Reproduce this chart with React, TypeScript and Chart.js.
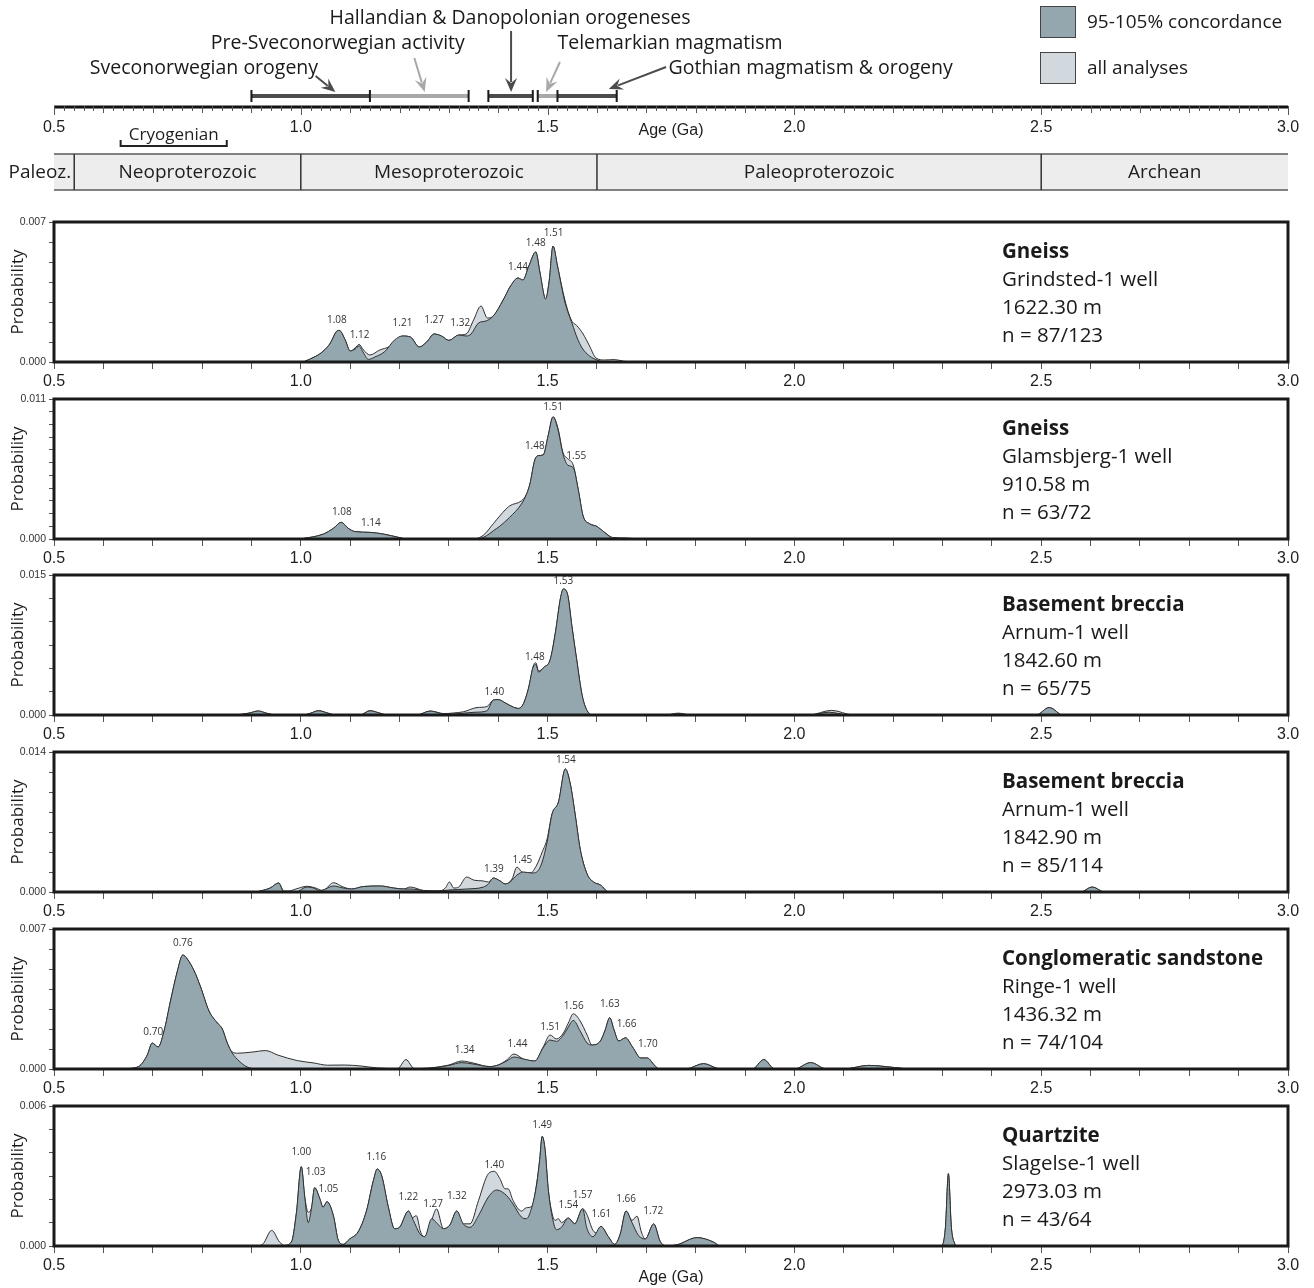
import React, { useEffect, useRef } from "react";
import { Chart, registerables } from "chart.js";

Chart.register(...registerables);

type Pt = [number, number];
type Peak = [string, number, number];

// ---------------- data ----------------
const ageMin = 0.5;
const ageMax = 3.0;
const ageMid = 1.75;

const eventNames = [
  "Sveconorwegian orogeny",
  "Pre-Sveconorwegian activity",
  "Hallandian & Danopolonian orogeneses",
  "Telemarkian magmatism",
  "Gothian magmatism & orogeny",
];
const eventStart = [0.9, 1.14, 1.38, 1.48, 1.52];
const eventEnd = [1.14, 1.34, 1.47, 1.52, 1.64];
const eventTone = ["dark", "light", "dark", "light", "dark"];

const eraNames = ["Paleoz.", "Neoproterozoic", "Mesoproterozoic", "Paleoproterozoic", "Archean"];
const eraStart = [0.5, 0.541, 1.0, 1.6, 2.5];
const eraEnd = [0.541, 1.0, 1.6, 2.5, 3.0];

const periodName = "Cryogenian";
const periodSpan = [0.635, 0.85];

const legendLabels = ["95-105% concordance", "all analyses"];

const sampleRock = ["Gneiss", "Gneiss", "Basement breccia", "Basement breccia", "Conglomeratic sandstone", "Quartzite"];
const sampleWell = ["Grindsted-1 well", "Glamsbjerg-1 well", "Arnum-1 well", "Arnum-1 well", "Ringe-1 well", "Slagelse-1 well"];
const sampleDepth = ["1622.30 m", "910.58 m", "1842.60 m", "1842.90 m", "1436.32 m", "2973.03 m"];
const sampleN = ["n = 87/123", "n = 63/72", "n = 65/75", "n = 85/114", "n = 74/104", "n = 43/64"];
const yMax = [0.007, 0.011, 0.015, 0.014, 0.007, 0.006];
const yStep = [0.001, 0.001, 0.0025, 0.002, 0.001, 0.001];

// Panel 1 - Grindsted-1
const p1Conc: Pt[] = [
  [1.005, 0], [1.03, 0.00028], [1.045, 0.00053], [1.06, 0.00095], [1.072, 0.00152], [1.078, 0.00158],
  [1.09, 0.0011], [1.1, 0.00055], [1.11, 0.00065], [1.118, 0.0008], [1.126, 0.0005], [1.137, 0.00013],
  [1.15, 0.00025], [1.17, 0.00052], [1.19, 0.0011], [1.206, 0.0013], [1.222, 0.00125], [1.24, 0.00075],
  [1.255, 0.001], [1.27, 0.0014], [1.285, 0.0013], [1.3, 0.00108], [1.32, 0.00135], [1.335, 0.0013],
  [1.345, 0.0014], [1.36, 0.00195], [1.375, 0.00205], [1.39, 0.0023], [1.41, 0.0031], [1.425, 0.0038],
  [1.44, 0.0042], [1.45, 0.0041], [1.462, 0.0048], [1.476, 0.0055], [1.485, 0.0044], [1.496, 0.00315],
  [1.503, 0.004], [1.511, 0.0058], [1.52, 0.0048], [1.535, 0.003], [1.55, 0.0019], [1.56, 0.0012],
  [1.57, 0.0007], [1.585, 0.0003], [1.6, 0.0001], [1.612, 0],
];
const p1All: Pt[] = [
  [1.005, 0], [1.03, 0.00028], [1.045, 0.00053], [1.06, 0.00095], [1.072, 0.00152], [1.078, 0.00158],
  [1.09, 0.0011], [1.1, 0.00055], [1.11, 0.0007], [1.118, 0.00088], [1.127, 0.0006], [1.14, 0.00035],
  [1.16, 0.0006], [1.18, 0.00078], [1.195, 0.0011], [1.206, 0.0013], [1.222, 0.00125], [1.24, 0.00075],
  [1.255, 0.001], [1.27, 0.0014], [1.285, 0.0013], [1.3, 0.00108], [1.32, 0.00135], [1.335, 0.0014],
  [1.35, 0.0021], [1.365, 0.0028], [1.378, 0.0022], [1.39, 0.0023], [1.41, 0.0031], [1.425, 0.0038],
  [1.44, 0.0042], [1.45, 0.0041], [1.462, 0.0048], [1.476, 0.0055], [1.485, 0.0044], [1.496, 0.00315],
  [1.503, 0.004], [1.511, 0.0058], [1.52, 0.0048], [1.535, 0.0031], [1.548, 0.0021], [1.56, 0.0018],
  [1.572, 0.0014], [1.585, 0.0008], [1.598, 0.0002], [1.615, 0.0001], [1.635, 0.00012], [1.652, 0.00005],
  [1.665, 0],
];
const p1Peaks: Peak[] = [
  ["1.08", 1.073, 0.00208], ["1.12", 1.119, 0.00132], ["1.21", 1.206, 0.00195], ["1.27", 1.27, 0.00208],
  ["1.32", 1.323, 0.00195], ["1.44", 1.44, 0.00473], ["1.48", 1.476, 0.00595], ["1.51", 1.512, 0.00642],
];

// Panel 2 - Glamsbjerg-1
const p2Conc: Pt[] = [
  [1.0, 0], [1.046, 0.00039], [1.066, 0.00084], [1.082, 0.00131], [1.096, 0.00084], [1.11, 0.00058],
  [1.14, 0.00052], [1.167, 0.00039], [1.201, 0.0001], [1.214, 0],
  [1.356, 0], [1.376, 0.00025], [1.39, 0.00065], [1.403, 0.001], [1.423, 0.0017], [1.447, 0.00275],
  [1.457, 0.0035], [1.464, 0.0043], [1.474, 0.0062], [1.481, 0.00655], [1.491, 0.0066], [1.501, 0.0081],
  [1.511, 0.0096], [1.521, 0.0086], [1.531, 0.0067], [1.541, 0.0058], [1.552, 0.0056], [1.562, 0.0039],
  [1.572, 0.0018], [1.585, 0.0012], [1.599, 0.001], [1.616, 0.0005], [1.632, 0],
];
const p2All: Pt[] = [
  [1.0, 0], [1.046, 0.00039], [1.066, 0.00084], [1.082, 0.00131], [1.096, 0.00084], [1.11, 0.00058],
  [1.14, 0.00052], [1.167, 0.00039], [1.201, 0.0001], [1.214, 0],
  [1.35, 0], [1.37, 0.0003], [1.39, 0.0012], [1.405, 0.0019], [1.423, 0.0026], [1.447, 0.003],
  [1.457, 0.0035], [1.464, 0.0043], [1.474, 0.0062], [1.481, 0.00655], [1.491, 0.0066], [1.501, 0.0081],
  [1.511, 0.0096], [1.521, 0.0087], [1.531, 0.0068], [1.541, 0.0063], [1.552, 0.0058], [1.562, 0.0039],
  [1.572, 0.0018], [1.585, 0.0012], [1.599, 0.001], [1.616, 0.0005], [1.632, 0.00012], [1.66, 0.00008],
  [1.68, 0],
];
const p2Peaks: Peak[] = [
  ["1.08", 1.083, 0.0021], ["1.14", 1.142, 0.00123], ["1.48", 1.474, 0.00733], ["1.51", 1.511, 0.01035],
  ["1.55", 1.558, 0.0065],
];

// Panel 3 - Arnum-1 1842.60
const p3Conc: Pt[] = [
  [0.87, 0], [0.895, 0.0002], [0.914, 0.00043], [0.93, 0.0002], [0.95, 0],
  [1.005, 0], [1.02, 0.0002], [1.036, 0.00045], [1.055, 0.0002], [1.07, 0],
  [1.12, 0], [1.14, 0.00045], [1.16, 0.0002], [1.175, 0],
  [1.235, 0], [1.262, 0.00042], [1.29, 0.00012], [1.31, 0.0001], [1.33, 0.0002], [1.355, 0.0003],
  [1.377, 0.00045], [1.39, 0.0016], [1.4, 0.00165], [1.414, 0.0013], [1.431, 0.00083], [1.441, 0.0007],
  [1.451, 0.0012], [1.461, 0.0028], [1.472, 0.0053], [1.476, 0.0054], [1.482, 0.0046], [1.492, 0.0051],
  [1.505, 0.0059], [1.516, 0.0089], [1.526, 0.0125], [1.532, 0.0135], [1.541, 0.0128], [1.549, 0.0096],
  [1.559, 0.0059], [1.57, 0.0021], [1.58, 0.00047], [1.593, 0],
  [1.74, 0], [1.765, 0.00015], [1.79, 0], [2.03, 0], [2.07, 0.0003], [2.11, 0],
  [2.49, 0], [2.516, 0.0008], [2.54, 0],
];
const p3All: Pt[] = [
  [0.87, 0], [0.895, 0.0002], [0.914, 0.00043], [0.93, 0.0002], [0.95, 0],
  [1.005, 0], [1.02, 0.0002], [1.036, 0.00047], [1.055, 0.0002], [1.07, 0],
  [1.12, 0], [1.14, 0.00047], [1.16, 0.0002], [1.175, 0],
  [1.235, 0], [1.262, 0.00043], [1.29, 0.00015], [1.31, 0.00022], [1.33, 0.00035], [1.357, 0.0008],
  [1.377, 0.0009], [1.39, 0.0016], [1.4, 0.00165], [1.414, 0.0013], [1.431, 0.00083], [1.441, 0.0007],
  [1.451, 0.0012], [1.461, 0.0028], [1.472, 0.0054], [1.476, 0.0056], [1.482, 0.0047], [1.492, 0.0051],
  [1.505, 0.0059], [1.516, 0.0089], [1.526, 0.0125], [1.532, 0.0135], [1.541, 0.0128], [1.549, 0.0096],
  [1.559, 0.0059], [1.57, 0.0021], [1.58, 0.00047], [1.593, 0],
  [1.74, 0], [1.765, 0.0002], [1.79, 0], [2.03, 0], [2.075, 0.0005], [2.12, 0],
  [2.49, 0], [2.516, 0.0008], [2.54, 0],
];
const p3Peaks: Peak[] = [["1.40", 1.392, 0.00244], ["1.48", 1.474, 0.00621], ["1.53", 1.532, 0.01436]];

// Panel 4 - Arnum-1 1842.90
const p4Conc: Pt[] = [
  [0.91, 0], [0.938, 0.0004], [0.955, 0.0009], [0.966, 0], [0.99, 0], [1.012, 0.0005], [1.026, 0.0004],
  [1.039, 0.0001], [1.05, 0.0003], [1.066, 0.0006], [1.086, 0.0004], [1.103, 0.0003], [1.127, 0.00055],
  [1.161, 0.0006], [1.188, 0.0004], [1.208, 0.0003], [1.222, 0.0003], [1.249, 0.00015], [1.28, 0.0001],
  [1.3, 0.0002], [1.336, 0.0003], [1.37, 0.0005], [1.38, 0.0008], [1.39, 0.0014], [1.404, 0.0011],
  [1.414, 0.0008], [1.424, 0.001], [1.438, 0.0017], [1.451, 0.002], [1.468, 0.0019], [1.478, 0.002],
  [1.489, 0.003], [1.499, 0.005], [1.509, 0.0078], [1.522, 0.009], [1.536, 0.0123], [1.546, 0.0108],
  [1.556, 0.0077], [1.566, 0.0043], [1.58, 0.0018], [1.593, 0.001], [1.607, 0.0007], [1.624, 0],
  [2.58, 0], [2.603, 0.0005], [2.625, 0],
];
const p4All: Pt[] = [
  [0.91, 0], [0.938, 0.0004], [0.955, 0.0009], [0.966, 0.0001], [0.975, 0.0001], [0.992, 0.00033],
  [1.012, 0.00057], [1.03, 0.0004], [1.043, 0.00017], [1.05, 0.0003], [1.066, 0.00093], [1.086, 0.0005],
  [1.103, 0.0003], [1.127, 0.00055], [1.161, 0.0006], [1.188, 0.0004], [1.208, 0.0003], [1.222, 0.0005],
  [1.249, 0.00015], [1.28, 0.0001], [1.293, 0.0004], [1.301, 0.001], [1.31, 0.0004], [1.32, 0.0005],
  [1.336, 0.0015], [1.35, 0.0012], [1.37, 0.0011], [1.38, 0.001], [1.39, 0.0014], [1.404, 0.0011],
  [1.414, 0.0008], [1.428, 0.0013], [1.438, 0.0025], [1.448, 0.002], [1.465, 0.0019], [1.478, 0.0027],
  [1.489, 0.004], [1.499, 0.0053], [1.509, 0.0078], [1.522, 0.009], [1.536, 0.0123], [1.546, 0.0108],
  [1.556, 0.0077], [1.566, 0.0043], [1.58, 0.0018], [1.593, 0.001], [1.607, 0.0007], [1.624, 0],
  [2.58, 0], [2.603, 0.0005], [2.625, 0],
];
const p4Peaks: Peak[] = [["1.39", 1.391, 0.00226], ["1.45", 1.449, 0.00316], ["1.54", 1.537, 0.01315]];

// Panel 5 - Ringe-1
const p5Conc: Pt[] = [
  [0.63, 0], [0.649, 0.00002], [0.672, 0.00013], [0.689, 0.0007], [0.699, 0.0013], [0.711, 0.0011],
  [0.723, 0.0019], [0.736, 0.0034], [0.75, 0.0049], [0.761, 0.0057], [0.77, 0.0055], [0.784, 0.0049],
  [0.797, 0.0041], [0.814, 0.0029], [0.831, 0.0023], [0.841, 0.002], [0.851, 0.0013], [0.861, 0.0008],
  [0.875, 0.0004], [0.889, 0.00013], [0.902, 0.00002], [0.92, 0],
  [1.24, 0], [1.3, 0.00018], [1.326, 0.00032], [1.349, 0.00025], [1.383, 0.00012], [1.4, 0.0002],
  [1.417, 0.0004], [1.432, 0.0006], [1.451, 0.0005], [1.474, 0.0004], [1.491, 0.00106], [1.505, 0.00145],
  [1.518, 0.00138], [1.532, 0.0017], [1.542, 0.0021], [1.552, 0.00243], [1.566, 0.0019], [1.58, 0.0013],
  [1.59, 0.0012], [1.607, 0.0014], [1.616, 0.0019], [1.626, 0.00256], [1.634, 0.002], [1.644, 0.0014],
  [1.658, 0.00156], [1.672, 0.0011], [1.689, 0.00055], [1.702, 0.00055], [1.716, 0.0002], [1.726, 0],
  [1.78, 0], [1.816, 0.00027], [1.85, 0], [1.915, 0], [1.938, 0.00047], [1.96, 0], [2.0, 0],
  [2.033, 0.00032], [2.065, 0], [2.1, 0], [2.15, 0.00018], [2.2, 0.00008], [2.23, 0],
];
const p5All: Pt[] = [
  [0.63, 0], [0.649, 0.00002], [0.672, 0.00013], [0.689, 0.0007], [0.699, 0.0013], [0.711, 0.0011],
  [0.723, 0.0019], [0.736, 0.0034], [0.75, 0.0049], [0.761, 0.0057], [0.77, 0.0055], [0.784, 0.0049],
  [0.797, 0.0041], [0.814, 0.0029], [0.831, 0.0023], [0.841, 0.002], [0.851, 0.0013], [0.861, 0.00085],
  [0.872, 0.00079], [0.899, 0.00084], [0.929, 0.00092], [0.953, 0.0007], [0.993, 0.00042], [1.027, 0.0003],
  [1.054, 0.00019], [1.088, 0.0002], [1.122, 0.00015], [1.156, 0.00005], [1.196, 0.00002], [1.213, 0.00047],
  [1.23, 0.00002], [1.26, 0.00005], [1.3, 0.0002], [1.326, 0.0004], [1.349, 0.0003], [1.383, 0.00012],
  [1.4, 0.0002], [1.417, 0.00045], [1.432, 0.00075], [1.451, 0.0005], [1.474, 0.0004], [1.491, 0.0011],
  [1.505, 0.0017], [1.518, 0.0015], [1.532, 0.0018], [1.542, 0.0023], [1.552, 0.00276], [1.566, 0.0024],
  [1.58, 0.0017], [1.59, 0.0012], [1.607, 0.0014], [1.616, 0.0019], [1.626, 0.00256], [1.634, 0.002],
  [1.644, 0.0014], [1.658, 0.00156], [1.672, 0.0011], [1.689, 0.00055], [1.702, 0.00055], [1.716, 0.0002],
  [1.726, 0], [1.78, 0], [1.816, 0.00027], [1.85, 0], [1.915, 0], [1.938, 0.00047], [1.96, 0], [2.0, 0],
  [2.033, 0.00032], [2.065, 0], [2.1, 0], [2.15, 0.00018], [2.2, 0.00008], [2.23, 0],
];
const p5Peaks: Peak[] = [
  ["0.70", 0.701, 0.00186], ["0.76", 0.761, 0.00628], ["1.34", 1.332, 0.00092], ["1.44", 1.439, 0.00122],
  ["1.51", 1.505, 0.00211], ["1.56", 1.553, 0.00315], ["1.63", 1.626, 0.00323], ["1.66", 1.66, 0.00223],
  ["1.70", 1.703, 0.00122],
];

// Panel 6 - Slagelse-1
const p6Conc: Pt[] = [
  [0.955, 0], [0.964, 0.00002], [0.981, 0.00017], [0.991, 0.0014], [1.001, 0.0034], [1.008, 0.0021],
  [1.015, 0.001], [1.022, 0.00166], [1.028, 0.0025], [1.039, 0.002], [1.045, 0.00166], [1.053, 0.0019],
  [1.066, 0.0013], [1.076, 0.00024], [1.086, 0.00007], [1.099, 0.0003], [1.116, 0.0006], [1.133, 0.0015],
  [1.147, 0.0028], [1.155, 0.0033], [1.164, 0.003], [1.177, 0.0017], [1.19, 0.00074], [1.2, 0.0008],
  [1.218, 0.0015], [1.228, 0.0011], [1.241, 0.00053], [1.251, 0.0004], [1.265, 0.00117], [1.275, 0.001],
  [1.289, 0.00074], [1.302, 0.0009], [1.316, 0.0015], [1.329, 0.00095], [1.343, 0.0008], [1.36, 0.0013],
  [1.38, 0.0021], [1.397, 0.0024], [1.417, 0.00216], [1.43, 0.0018], [1.447, 0.00124], [1.457, 0.00117],
  [1.468, 0.00166], [1.478, 0.00266], [1.484, 0.0037], [1.489, 0.0047], [1.495, 0.0041], [1.501, 0.0025],
  [1.508, 0.0014], [1.518, 0.0007], [1.528, 0.0008], [1.542, 0.0012], [1.555, 0.00095], [1.571, 0.0016],
  [1.579, 0.0008], [1.592, 0.0004], [1.608, 0.00084], [1.623, 0.0004], [1.636, 0.00007], [1.647, 0.0005],
  [1.659, 0.0015], [1.671, 0.001], [1.684, 0.00046], [1.698, 0.0003], [1.715, 0.00095], [1.728, 0.0002],
  [1.741, 0], [1.762, 0.00005], [1.803, 0.00036], [1.836, 0.00017], [1.85, 0],
  [2.298, 0], [2.306, 0.0008], [2.312, 0.0031], [2.318, 0.0008], [2.326, 0],
];
const p6All: Pt[] = [
  [0.915, 0], [0.924, 0.0001], [0.941, 0.00067], [0.957, 0.00017], [0.968, 0.00002], [0.981, 0.00017],
  [0.991, 0.0014], [1.001, 0.0034], [1.008, 0.0021], [1.015, 0.00145], [1.022, 0.00166], [1.028, 0.0025],
  [1.039, 0.002], [1.045, 0.00166], [1.053, 0.0019], [1.066, 0.0013], [1.076, 0.00024], [1.086, 0.00007],
  [1.099, 0.0003], [1.116, 0.0006], [1.133, 0.0015], [1.147, 0.0028], [1.155, 0.0033], [1.164, 0.003],
  [1.177, 0.0017], [1.19, 0.00074], [1.2, 0.0008], [1.218, 0.0015], [1.225, 0.0012], [1.234, 0.0013],
  [1.243, 0.00058], [1.251, 0.0004], [1.265, 0.0011], [1.275, 0.00159], [1.289, 0.00074], [1.302, 0.0009],
  [1.316, 0.0015], [1.329, 0.00095], [1.343, 0.00095], [1.36, 0.00195], [1.38, 0.0031], [1.392, 0.0032],
  [1.403, 0.0029], [1.414, 0.00245], [1.42, 0.00245], [1.43, 0.00195], [1.447, 0.0015], [1.457, 0.00164],
  [1.468, 0.0017], [1.478, 0.0027], [1.484, 0.0037], [1.489, 0.0047], [1.495, 0.0041], [1.501, 0.0025],
  [1.508, 0.0015], [1.515, 0.0011], [1.522, 0.00117], [1.528, 0.001], [1.542, 0.0012], [1.555, 0.00095],
  [1.571, 0.0016], [1.579, 0.00138], [1.592, 0.00067], [1.6, 0.00055], [1.608, 0.00084], [1.623, 0.0004],
  [1.636, 0.00007], [1.647, 0.0005], [1.659, 0.0015], [1.671, 0.0011], [1.681, 0.00128], [1.69, 0.0006],
  [1.698, 0.0003], [1.715, 0.00095], [1.728, 0.0002], [1.741, 0], [1.762, 0.00005], [1.803, 0.00036],
  [1.836, 0.00017], [1.85, 0],
  [2.298, 0], [2.306, 0.0008], [2.312, 0.0031], [2.318, 0.0008], [2.326, 0],
];
const p6Peaks: Peak[] = [
  ["1.00", 1.001, 0.00401], ["1.03", 1.03, 0.00316], ["1.05", 1.056, 0.00245], ["1.16", 1.153, 0.0038],
  ["1.22", 1.218, 0.00209], ["1.27", 1.268, 0.0018], ["1.32", 1.316, 0.00212], ["1.40", 1.392, 0.00348],
  ["1.49", 1.489, 0.00519], ["1.54", 1.542, 0.00173], ["1.57", 1.571, 0.0022], ["1.61", 1.609, 0.00135],
  ["1.66", 1.659, 0.00202], ["1.72", 1.714, 0.00148],
];

const panelConc = [p1Conc, p2Conc, p3Conc, p4Conc, p5Conc, p6Conc];
const panelAll = [p1All, p2All, p3All, p4All, p5All, p6All];
const panelPeaks = [p1Peaks, p2Peaks, p3Peaks, p4Peaks, p5Peaks, p6Peaks];

// ---------------- layout / style ----------------
const W = 1314;
const H = 1288;
const PLOT_LEFT = 54;
const PLOT_RIGHT_PAD = 26;
const PANEL_BOTTOM0 = 362;
const PANEL_PITCH = 176.74;
const PANEL_H = 140;
const PANEL_TOP_PAD = 14;

const DARK_FILL = "#94a7af";
const LIGHT_FILL = "#d1d9de";
const CURVE_LINE = "#2f2f2f";
const BAR_DARK = "#4c4c4c";
const BAR_LIGHT = "#a8a8a8";
const SANS = '"Open Sans", "Noto Sans", sans-serif';
const ARIAL = '"Liberation Sans", Arial, sans-serif';

// label placement for the event captions: [ageX, y, align]
const eventLabelPos: [number, number, CanvasTextAlign][] = [
  [1.035, 68, "right"],
  [1.075, 43, "center"],
  [1.424, 18, "center"],
  [1.52, 43, "left"],
  [1.745, 68, "left"],
];
// arrow geometry: [tailAge, tailY, tipAge, tipY]
const eventArrows: [number, number, number, number][] = [
  [1.03, 76, 1.07, 92],
  [1.23, 58, 1.251, 92],
  [1.426, 31, 1.426, 92],
  [1.525, 62, 1.497, 92],
  [1.74, 67, 1.624, 89],
];

const isMajor = (v: number) => Math.abs(v * 2 - Math.round(v * 2)) < 1e-6;

function drawArrow(ctx: CanvasRenderingContext2D, x1: number, y1: number, x2: number, y2: number, color: string) {
  const ang = Math.atan2(y2 - y1, x2 - x1);
  const headLen = 14;
  const headW = 6;
  const bx = x2 - Math.cos(ang) * headLen;
  const by = y2 - Math.sin(ang) * headLen;
  ctx.save();
  ctx.strokeStyle = color;
  ctx.fillStyle = color;
  ctx.lineWidth = 2;
  ctx.beginPath();
  ctx.moveTo(x1, y1);
  ctx.lineTo(bx + Math.cos(ang) * 4, by + Math.sin(ang) * 4);
  ctx.stroke();
  const nx = -Math.sin(ang);
  const ny = Math.cos(ang);
  ctx.beginPath();
  ctx.moveTo(x2, y2);
  ctx.lineTo(bx + nx * headW, by + ny * headW);
  ctx.lineTo(bx + Math.cos(ang) * 5, by + Math.sin(ang) * 5);
  ctx.lineTo(bx - nx * headW, by - ny * headW);
  ctx.closePath();
  ctx.fill();
  ctx.restore();
}

const topPlugin = {
  id: "topDecor",
  afterDraw(chart: any) {
    const ctx: CanvasRenderingContext2D = chart.ctx;
    const xs = chart.scales.x;
    const area = chart.chartArea;
    const px = (a: number) => xs.getPixelForValue(a);
    const axisY = area.bottom;
    ctx.save();

    // era table
    const tTop = 154;
    const tBot = 190;
    ctx.fillStyle = "#ededed";
    ctx.fillRect(px(ageMin), tTop, px(ageMax) - px(ageMin), tBot - tTop);
    ctx.strokeStyle = "#808080";
    ctx.lineWidth = 2;
    ctx.beginPath();
    ctx.moveTo(px(ageMin), tTop);
    ctx.lineTo(px(ageMax), tTop);
    ctx.moveTo(px(ageMin), tBot);
    ctx.lineTo(px(ageMax), tBot);
    ctx.stroke();
    ctx.strokeStyle = "#333";
    ctx.lineWidth = 1.5;
    ctx.beginPath();
    for (let i = 1; i < eraStart.length; i++) {
      const x = px(eraStart[i]);
      ctx.moveTo(x, tTop);
      ctx.lineTo(x, tBot);
    }
    ctx.stroke();
    ctx.fillStyle = "#1e1e1e";
    ctx.font = `19px ${SANS}`;
    ctx.textBaseline = "middle";
    for (let i = 0; i < eraNames.length; i++) {
      if (i === 0) {
        ctx.textAlign = "right";
        ctx.fillText(eraNames[i], px(eraEnd[i]) - 3, (tTop + tBot) / 2 + 1);
      } else {
        ctx.textAlign = "center";
        ctx.fillText(eraNames[i], (px(eraStart[i]) + px(eraEnd[i])) / 2, (tTop + tBot) / 2 + 1);
      }
    }

    // axis line and ticks
    ctx.strokeStyle = "#111";
    ctx.lineWidth = 3;
    ctx.beginPath();
    ctx.moveTo(px(ageMin), axisY);
    ctx.lineTo(px(ageMax), axisY);
    ctx.stroke();
    ctx.strokeStyle = "#555";
    ctx.lineWidth = 1;
    ctx.beginPath();
    for (let i = 0; i <= 125; i++) {
      const a = ageMin + i * 0.02;
      const len = i % 25 === 0 ? 8 : i % 5 === 0 ? 6 : 4;
      const x = Math.round(px(a)) + 0.5;
      ctx.moveTo(x, axisY - 1);
      ctx.lineTo(x, axisY + len);
    }
    ctx.stroke();

    ctx.fillStyle = "#1e1e1e";
    ctx.font = `16px ${ARIAL}`;
    ctx.textAlign = "center";
    ctx.fillText("Age (Ga)", px(ageMid), 131);

    // Cryogenian
    const c0 = px(periodSpan[0]);
    const c1 = px(periodSpan[1]);
    ctx.font = `17px ${SANS}`;
    ctx.fillText(periodName, (c0 + c1) / 2, 135);
    ctx.strokeStyle = "#222";
    ctx.lineWidth = 2;
    ctx.beginPath();
    ctx.moveTo(c0, 146);
    ctx.lineTo(c1, 146);
    ctx.moveTo(c0, 140);
    ctx.lineTo(c0, 147);
    ctx.moveTo(c1, 140);
    ctx.lineTo(c1, 147);
    ctx.stroke();

    // orogeny bars
    const barY = 96;
    for (let i = 0; i < eventNames.length; i++) {
      ctx.strokeStyle = eventTone[i] === "dark" ? BAR_DARK : BAR_LIGHT;
      ctx.lineWidth = 4;
      ctx.beginPath();
      ctx.moveTo(px(eventStart[i]), barY);
      ctx.lineTo(px(eventEnd[i]), barY);
      ctx.stroke();
    }
    ctx.strokeStyle = "#1a1a1a";
    ctx.lineWidth = 2;
    ctx.beginPath();
    for (let i = 0; i < eventNames.length; i++) {
      for (const a of [eventStart[i], eventEnd[i]]) {
        const x = px(a);
        ctx.moveTo(x, barY - 6);
        ctx.lineTo(x, barY + 6);
      }
    }
    ctx.stroke();

    // captions and arrows
    ctx.font = `19.5px ${SANS}`;
    ctx.fillStyle = "#1a1a1a";
    for (let i = 0; i < eventNames.length; i++) {
      const [a, y, al] = eventLabelPos[i];
      ctx.textAlign = al;
      ctx.fillText(eventNames[i], px(a), y);
      const [ta, ty, ha, hy] = eventArrows[i];
      drawArrow(ctx, px(ta), ty, px(ha), hy, eventTone[i] === "dark" ? BAR_DARK : BAR_LIGHT);
    }

    // legend
    const lx = 1040;
    const boxes: [string, number][] = [
      [DARK_FILL, 6],
      [LIGHT_FILL, 52],
    ];
    boxes.forEach(([col, y], i) => {
      ctx.fillStyle = col;
      ctx.fillRect(lx, y, 35, 31);
      ctx.strokeStyle = "#444";
      ctx.lineWidth = 1;
      ctx.strokeRect(lx + 0.5, y + 0.5, 35, 31);
      ctx.fillStyle = "#1a1a1a";
      ctx.textAlign = "left";
      ctx.font = `19px ${SANS}`;
      ctx.fillText(legendLabels[i], 1087, y + 17);
    });
    ctx.restore();
  },
};

function makePanelPlugin(idx: number) {
  return {
    id: "panelDecor" + idx,
    afterDraw(chart: any) {
      const ctx: CanvasRenderingContext2D = chart.ctx;
      const { left, right, top, bottom } = chart.chartArea;
      const xs = chart.scales.x;
      const ys = chart.scales.y;
      ctx.save();
      ctx.strokeStyle = "#1a1a1a";
      ctx.lineWidth = 3;
      ctx.strokeRect(left, top, right - left, bottom - top);

      // peak labels
      ctx.fillStyle = "#333";
      ctx.font = `10px ${SANS}`;
      ctx.textAlign = "center";
      ctx.textBaseline = "middle";
      for (const [t, a, v] of panelPeaks[idx]) {
        ctx.fillText(t, xs.getPixelForValue(a), ys.getPixelForValue(v));
      }

      // sample description
      const tx = right - 286;
      ctx.textAlign = "left";
      ctx.fillStyle = "#1a1a1a";
      ctx.font = `bold 20.5px ${SANS}`;
      ctx.fillText(sampleRock[idx], tx, top + 30);
      ctx.font = `20.5px ${SANS}`;
      ctx.fillText(sampleWell[idx], tx, top + 58);
      ctx.fillText(sampleDepth[idx], tx, top + 86);
      ctx.fillText(sampleN[idx], tx, top + 114);

      // y title
      ctx.save();
      ctx.translate(18, (top + bottom) / 2);
      ctx.rotate(-Math.PI / 2);
      ctx.textAlign = "center";
      ctx.font = `17px ${SANS}`;
      ctx.fillStyle = "#1a1a1a";
      ctx.fillText("Probability", 0, 0);
      ctx.restore();

      if (idx === 5) {
        ctx.textAlign = "center";
        ctx.font = `16px ${ARIAL}`;
        ctx.fillStyle = "#1e1e1e";
        ctx.fillText("Age (Ga)", xs.getPixelForValue(ageMid), bottom + 32);
      }
      ctx.restore();
    },
  };
}

function TopChart() {
  const ref = useRef<HTMLCanvasElement>(null);
  const height = 215;
  useEffect(() => {
    const chart = new Chart(ref.current as HTMLCanvasElement, {
      type: "line",
      data: { datasets: [] },
      options: {
        responsive: false,
        animation: false,
        events: [],
        layout: { padding: { left: PLOT_LEFT, right: PLOT_RIGHT_PAD, top: 100, bottom: 0 } },
        plugins: { legend: { display: false }, tooltip: { enabled: false } },
        scales: {
          x: {
            type: "linear",
            min: ageMin,
            max: ageMax,
            afterFit: (s: any) => {
              s.height = height - 107;
            },
            border: { display: false },
            grid: { display: false, drawTicks: false },
            ticks: {
              stepSize: 0.5,
              autoSkip: false,
              maxRotation: 0,
              padding: 11,
              color: "#1e1e1e",
              font: { family: ARIAL, size: 16 },
              callback: (v: any) => (isMajor(Number(v)) ? Number(v).toFixed(1) : ""),
            },
          },
          y: { display: false, min: 0, max: 1 },
        },
      } as any,
      plugins: [topPlugin],
    });
    (document as any).fonts?.ready?.then(() => {
      if ((chart as any).ctx) chart.update();
    });
    return () => chart.destroy();
  }, []);
  return (
    <canvas
      ref={ref}
      width={W}
      height={height}
      style={{ position: "absolute", left: 0, top: 0, width: W, height }}
    />
  );
}

function Panel({ idx }: { idx: number }) {
  const ref = useRef<HTMLCanvasElement>(null);
  const last = idx === 5;
  const bottom = PANEL_BOTTOM0 + idx * PANEL_PITCH;
  const top = Math.round(bottom - PANEL_H - PANEL_TOP_PAD);
  const height = last ? H - top : 194;
  const xAxisH = height - PANEL_TOP_PAD - PANEL_H;
  useEffect(() => {
    const max = yMax[idx];
    const chart = new Chart(ref.current as HTMLCanvasElement, {
      type: "line",
      data: {
        datasets: [
          {
            label: legendLabels[0],
            data: panelConc[idx].map(([x, y]) => ({ x, y })),
            fill: "origin",
            backgroundColor: DARK_FILL,
            borderColor: CURVE_LINE,
            borderWidth: 1,
            pointRadius: 0,
            cubicInterpolationMode: "monotone",
            order: 0,
          },
          {
            label: legendLabels[1],
            data: panelAll[idx].map(([x, y]) => ({ x, y })),
            fill: "origin",
            backgroundColor: LIGHT_FILL,
            borderColor: CURVE_LINE,
            borderWidth: 1,
            pointRadius: 0,
            cubicInterpolationMode: "monotone",
            order: 1,
          },
        ],
      },
      options: {
        responsive: false,
        animation: false,
        events: [],
        layout: { padding: { left: 0, right: PLOT_RIGHT_PAD, top: PANEL_TOP_PAD, bottom: 0 } },
        plugins: { legend: { display: false }, tooltip: { enabled: false } },
        scales: {
          x: {
            type: "linear",
            min: ageMin,
            max: ageMax,
            afterFit: (s: any) => {
              s.height = xAxisH;
            },
            border: { display: false },
            grid: { drawOnChartArea: false, drawTicks: true, tickLength: 7, color: "#555", lineWidth: 1 },
            ticks: {
              stepSize: 0.1,
              autoSkip: false,
              maxRotation: 0,
              padding: 3,
              color: "#1e1e1e",
              font: { family: ARIAL, size: 16 },
              callback: (v: any) => (isMajor(Number(v)) ? Number(v).toFixed(1) : ""),
            },
          },
          y: {
            min: 0,
            max,
            afterFit: (s: any) => {
              s.width = PLOT_LEFT;
            },
            border: { display: false },
            grid: { drawOnChartArea: false, drawTicks: true, tickLength: 5, color: "#555", lineWidth: 1 },
            ticks: {
              stepSize: yStep[idx],
              autoSkip: false,
              padding: 3,
              color: "#333",
              font: { family: ARIAL, size: 10.5 },
              callback: (v: any) => {
                const n = Number(v);
                return Math.abs(n) < 1e-12 || Math.abs(n - max) < 1e-9 ? n.toFixed(3) : "";
              },
            },
          },
        },
      } as any,
      plugins: [makePanelPlugin(idx)],
    });
    (document as any).fonts?.ready?.then(() => {
      if ((chart as any).ctx) chart.update();
    });
    return () => chart.destroy();
  }, []);
  return (
    <canvas
      ref={ref}
      width={W}
      height={height}
      style={{ position: "absolute", left: 0, top, width: W, height }}
    />
  );
}

export default function App() {
  useEffect(() => {
    document.body.style.margin = "0";
    document.body.style.overflow = "hidden";
  }, []);
  return (
    <div style={{ position: "absolute", left: 0, top: 0, width: W, height: H, background: "#fff", overflow: "hidden" }}>
      <TopChart />
      {[0, 1, 2, 3, 4, 5].map((i) => (
        <Panel key={i} idx={i} />
      ))}
    </div>
  );
}
